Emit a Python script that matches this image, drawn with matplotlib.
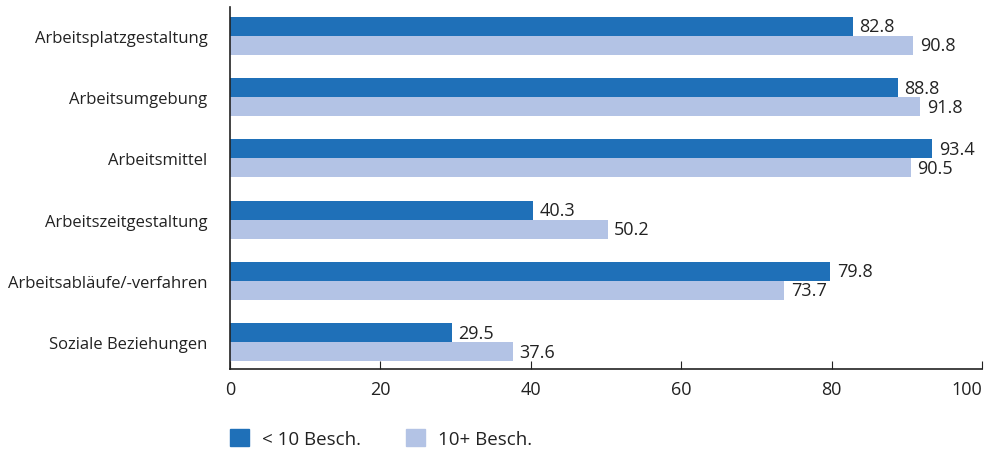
import matplotlib.pyplot as plt
import numpy as np
from matplotlib.patches import Patch

plt.rcParams['font.family'] = ['Open Sans', 'DejaVu Sans']

# Kategorien und Werte (Anteile in %)
kategorien = ['Arbeitsplatzgestaltung', 'Arbeitsumgebung', 'Arbeitsmittel',
              'Arbeitszeitgestaltung', 'Arbeitsabläufe/-verfahren', 'Soziale Beziehungen']
klein = [82.8, 88.8, 93.4, 40.3, 79.8, 29.5]
gross = [90.8, 91.8, 90.5, 50.2, 73.7, 37.6]
serien = ['< 10 Besch.', '10+ Besch.']

dunkel = '#1f70b8'
hell = '#b3c3e5'
textfarbe = '#222222'

fig = plt.figure(figsize=(9.89, 4.56), dpi=100)
ax = fig.add_axes([0.2325, 0.1886, 0.7605, 0.794])

y = np.arange(len(kategorien))
h = 0.31
b1 = ax.barh(y - h / 2, klein, height=h, color=dunkel)
b2 = ax.barh(y + h / 2, gross, height=h, color=hell)

for bars, werte in ((b1, klein), (b2, gross)):
    for bar, w in zip(bars, werte):
        ax.text(w + 0.9, bar.get_y() + bar.get_height() / 2, f'{w:.1f}',
                va='center', ha='left', fontsize=13, color=textfarbe)

ax.set_ylim(len(kategorien) - 1 + 0.44, -0.474)
ax.set_xlim(0, 100)
ax.set_yticks(y)
ax.set_yticklabels(kategorien, fontsize=12, color=textfarbe)
ax.set_xticks(np.arange(0, 101, 20))
ax.tick_params(axis='x', direction='in', length=6, labelsize=13, labelcolor=textfarbe,
               pad=8, color=textfarbe)
ax.tick_params(axis='y', length=0, pad=16)
# letzte Beschriftung rechtsbündig, damit sie im Bild bleibt
ax.get_xticklabels()[-1].set_horizontalalignment('right')

for s in ('top', 'right'):
    ax.spines[s].set_visible(False)
for s in ('left', 'bottom'):
    ax.spines[s].set_color(textfarbe)
    ax.spines[s].set_linewidth(1.2)

handles = [Patch(color=dunkel), Patch(color=hell)]
fig.legend(handles, serien, loc='lower left', bbox_to_anchor=(0.216, -0.022),
           ncol=2, frameon=False, fontsize=13.5, handlelength=1.0, handleheight=1.0,
           columnspacing=2.4, handletextpad=0.7, labelcolor=textfarbe)

fig.savefig('out.png', dpi=100)
